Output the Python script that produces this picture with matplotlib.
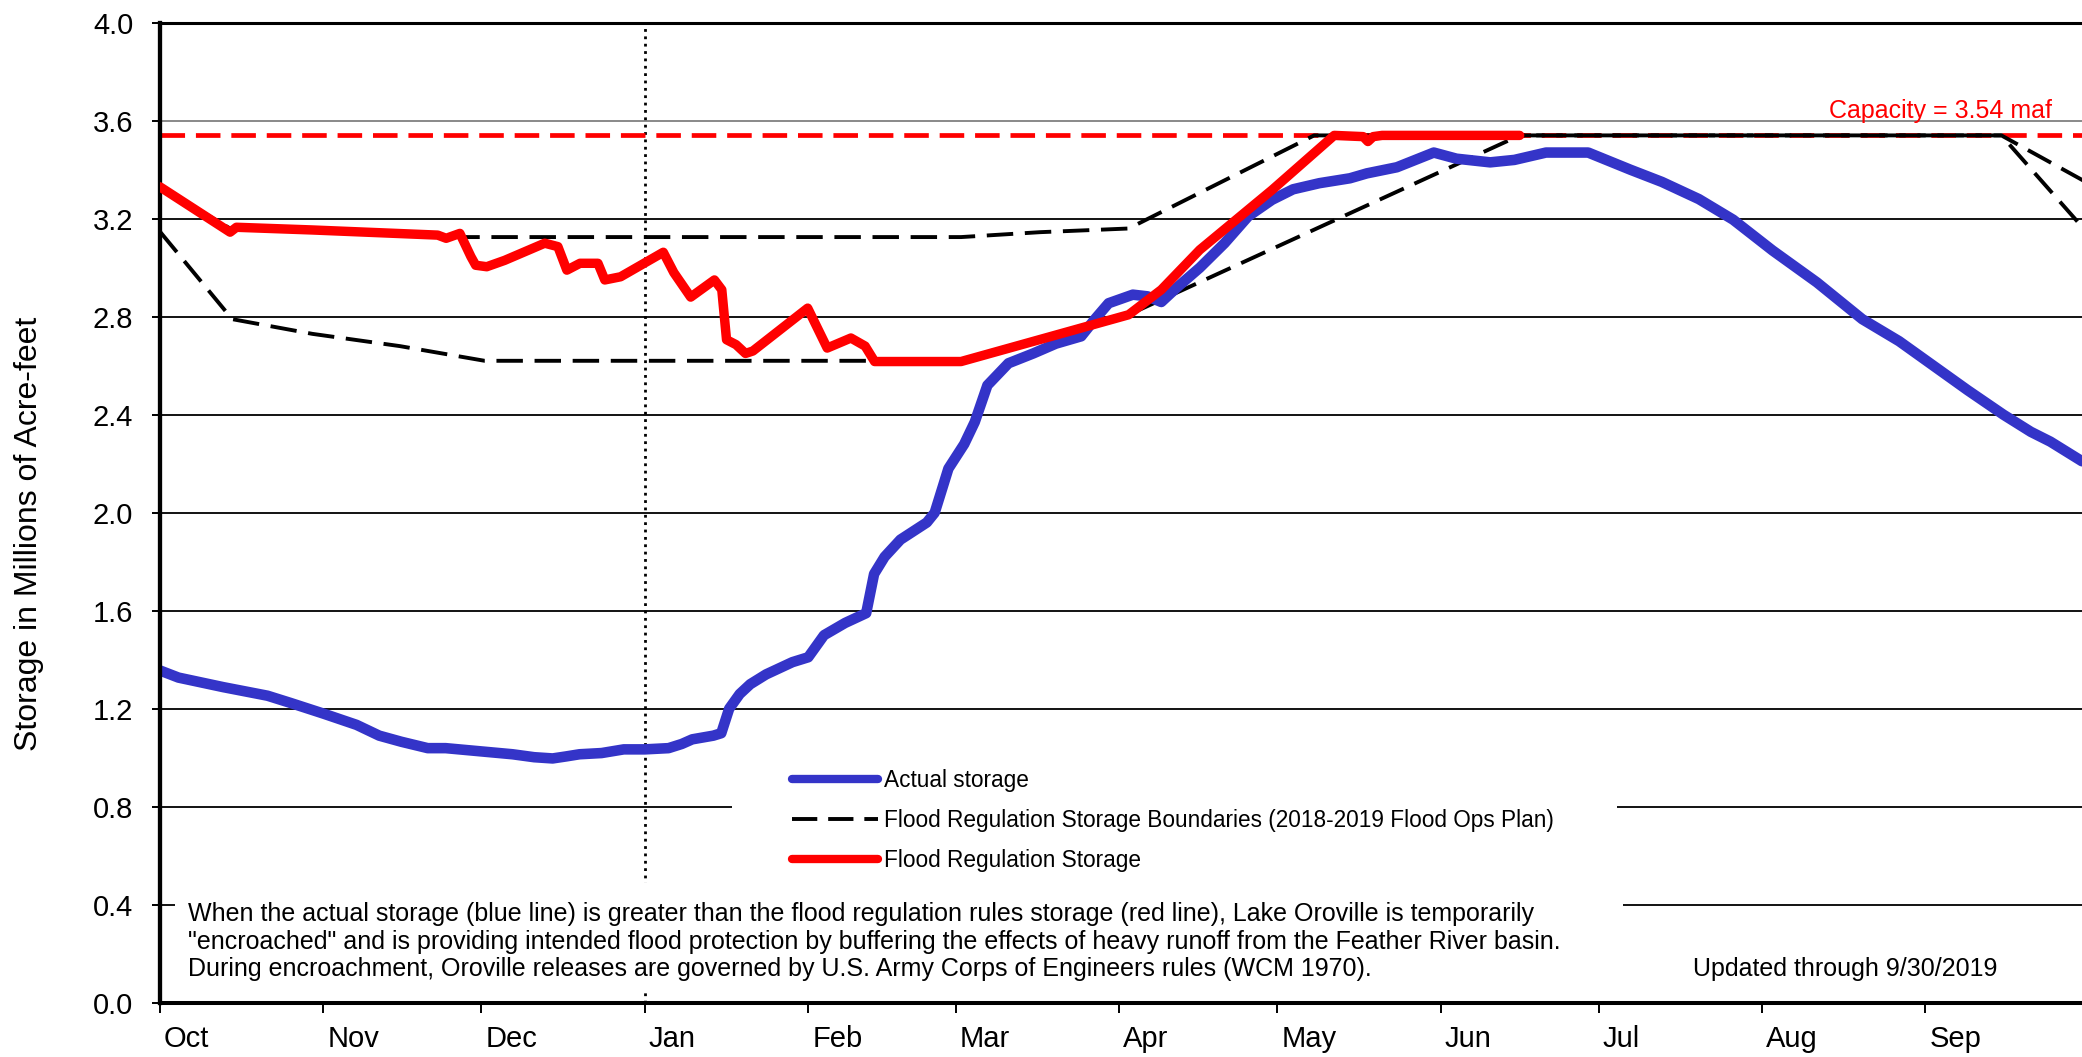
import numpy as np
import matplotlib
matplotlib.use("Agg")
import matplotlib.pyplot as plt
from matplotlib.lines import Line2D
from matplotlib.patches import Rectangle
from matplotlib.transforms import ScaledTranslation

plt.rcParams['font.family'] = ['Liberation Sans', 'DejaVu Sans']

# Water year 2019, x = days since Oct 1, 2018
month_names = ['Oct', 'Nov', 'Dec', 'Jan', 'Feb', 'Mar', 'Apr', 'May', 'Jun', 'Jul', 'Aug', 'Sep']
month_lengths = [31, 30, 31, 31, 28, 31, 30, 31, 30, 31, 31, 30]
month_starts = np.concatenate([[0], np.cumsum(month_lengths)[:-1]])

# Actual storage (maf)
actual_days = [0, 3.5, 12, 20.4, 24.7, 31, 37.3, 41.6, 45.8, 50.8, 54.2, 60.8, 66.9, 71, 74.5,
               77, 79.6, 83.8, 88, 92, 96.5, 99, 101, 105, 106.5, 108, 110, 112, 115, 120, 123,
               126, 130, 134, 135.5, 137.5, 140.5, 145.5, 147, 149.6, 152.6, 154.6, 157, 161,
               165.7, 170, 174.8, 177.4, 180, 184.6, 187.4, 190, 193, 197.3, 202, 206.5, 211,
               215, 220, 225.8, 229, 234.7, 241.7, 246, 252.4, 257, 263, 271, 279, 285, 292,
               298.5, 306, 314.4, 323, 330, 336.5, 343, 349.8, 355, 358.7, 364.7]
actual_maf = [1.356, 1.327, 1.288, 1.253, 1.224, 1.18, 1.134, 1.09, 1.065, 1.039, 1.039, 1.026,
              1.014, 1.002, 0.997, 1.005, 1.014, 1.019, 1.034, 1.034, 1.039, 1.056, 1.075, 1.09,
              1.10, 1.20, 1.26, 1.30, 1.34, 1.39, 1.41, 1.50, 1.55, 1.59, 1.75, 1.82, 1.89, 1.96,
              2.0, 2.18, 2.28, 2.37, 2.52, 2.61, 2.65, 2.69, 2.72, 2.79, 2.855, 2.89, 2.883,
              2.86, 2.92, 3.0, 3.10, 3.21, 3.277, 3.32, 3.345, 3.365, 3.385, 3.41, 3.47, 3.445,
              3.43, 3.44, 3.47, 3.47, 3.40, 3.35, 3.28, 3.196, 3.07, 2.94, 2.79, 2.70, 2.60,
              2.50, 2.40, 2.33, 2.29, 2.21]

# Flood regulation storage (maf)
flood_days = [0, 13.3, 14.5, 28.9, 52.7, 54.3, 56.9, 59, 59.9, 62, 65.4, 73, 75.5, 77.2, 79.7,
              83.1, 84.4, 87.4, 95.5, 97.5, 100.7, 105.2, 106.6, 107.5, 109.3, 111.1, 112.5,
              122.9, 126.6, 131.1, 133.8, 135.6, 152, 183.8, 190, 197.3, 211, 222.8, 228.3,
              229.2, 230.2, 231.9, 258]
flood_maf = [3.33, 3.145, 3.165, 3.154, 3.133, 3.12, 3.14, 3.045, 3.01, 3.004, 3.03, 3.10,
             3.086, 2.99, 3.018, 3.018, 2.95, 2.963, 3.063, 2.98, 2.88, 2.95, 2.91, 2.706,
             2.686, 2.65, 2.66, 2.835, 2.672, 2.713, 2.68, 2.617, 2.617, 2.808, 2.91, 3.073,
             3.317, 3.54, 3.535, 3.515, 3.535, 3.54, 3.54]

# Flood regulation storage boundaries (2018-2019 Flood Ops Plan)
upper_days = [0, 13.3, 57, 152, 167, 183.8, 219, 349.4, 365]
upper_maf = [3.33, 3.16, 3.125, 3.125, 3.145, 3.16, 3.54, 3.54, 3.355]
lower_days = [0, 13.7, 28.9, 45.5, 61.6, 152, 183.8, 258, 349.4, 365]
lower_maf = [3.147, 2.79, 2.73, 2.68, 2.62, 2.62, 2.808, 3.54, 3.54, 3.16]

capacity_maf = 3.54
y_ticks = np.round(np.arange(0, 4.01, 0.4), 1)

W, H = 2082, 1057
BLUE = '#3434C8'
RED = '#FF0000'


def fx(px):
    return px / W


def fy(py):
    return 1 - py / H


fig = plt.figure(figsize=(W / 100, H / 100), dpi=100)
ax = fig.add_axes([fx(160), fy(1002.7), fx(2082 - 160), (1002.7 - 22.7) / H])
ax.set_xlim(0, 364.7)
ax.set_ylim(0, 4.0)

# gridlines
for v in y_ticks[1:-1]:
    col = '#808080' if abs(v - 3.6) < 1e-6 else 'black'
    ax.axhline(v, color=col, lw=1.3, zorder=1)

# Jan 1 marker
ax.axvline(month_starts[3], color='black', lw=2.0, ls=':', zorder=1.5)

# capacity
ax.plot([0, 365], [capacity_maf, capacity_maf], color=RED, lw=3.4,
        dashes=(5.2, 2.3), zorder=2)

ax.plot(upper_days, upper_maf, color='black', lw=2.8, dashes=(6.8, 3.0), zorder=2.2)
ax.plot(lower_days, lower_maf, color='black', lw=2.8, dashes=(6.8, 3.0), zorder=2.2)
ax.plot(actual_days, actual_maf, color=BLUE, lw=7.6, solid_capstyle='round',
        solid_joinstyle='round', zorder=2.4)
ax.plot(flood_days, flood_maf, color=RED, lw=6.8, solid_capstyle='round',
        solid_joinstyle='round', zorder=2.6)

# spines and ticks
ax.spines['right'].set_visible(False)
ax.spines['left'].set_linewidth(3.1)
ax.spines['bottom'].set_linewidth(2.9)
ax.spines['top'].set_linewidth(2.2)

ax.set_yticks(y_ticks)
ax.set_yticklabels([f'{v:.1f}' for v in y_ticks])
ax.set_xticks(month_starts)
ax.set_xticklabels(month_names, ha='left')
ax.tick_params(axis='y', direction='out', length=5.8, width=1.4, pad=13.5, labelsize=21)
ax.tick_params(axis='x', direction='out', length=7.2, width=1.4, pad=9, labelsize=21)
shift = ScaledTranslation(4 / 100, 0, fig.dpi_scale_trans)
for lab in ax.get_xticklabels():
    lab.set_transform(lab.get_transform() + shift)

fig.text(fx(29), fy(534), 'Storage in Millions of Acre-feet', rotation=90,
         ha='center', va='center', fontsize=23)

ax.text(fx(2052), fy(118), 'Capacity = 3.54 maf', transform=fig.transFigure,
        ha='right', va='baseline', color=RED, fontsize=18)

# white boxes for legend and note
for x0, y0, x1, y1 in [(732, 750, 1617, 878), (175, 883, 1623, 993)]:
    ax.add_patch(Rectangle((fx(x0), fy(y1)), fx(x1 - x0), (y1 - y0) / H,
                           transform=fig.transFigure, facecolor='white',
                           edgecolor='none', clip_on=False, zorder=3))

handles = [Line2D([], [], color=BLUE, lw=6, solid_capstyle='round'),
           Line2D([], [], color='black', lw=2.8, dashes=(6.5, 2.8)),
           Line2D([], [], color=RED, lw=6, solid_capstyle='round')]
labels = ['Actual storage',
          'Flood Regulation Storage Boundaries (2018-2019 Flood Ops Plan)',
          'Flood Regulation Storage']
leg = ax.legend(handles, labels, loc='upper left', bbox_to_anchor=(fx(792), fy(769)),
                bbox_transform=fig.transFigure, frameon=False, fontsize=16.3,
                handlelength=3.8, handletextpad=0.27, labelspacing=0.75,
                borderpad=0, borderaxespad=0)
leg.set_zorder(4)

note = ['When the actual storage (blue line) is greater than the flood regulation rules storage (red line), Lake Oroville is temporarily',
        '"encroached" and is providing intended flood protection by buffering the effects of heavy runoff from the Feather River basin.',
        'During encroachment, Oroville releases are governed by U.S. Army Corps of Engineers rules (WCM 1970).']
for i, line in enumerate(note):
    fig.text(fx(188), fy(921 + 27.5 * i), line, ha='left', va='baseline',
             fontsize=18, zorder=5)
fig.text(fx(1693), fy(976), 'Updated through 9/30/2019', ha='left', va='baseline',
         fontsize=18, zorder=5)

fig.savefig('out.png', dpi=100)
